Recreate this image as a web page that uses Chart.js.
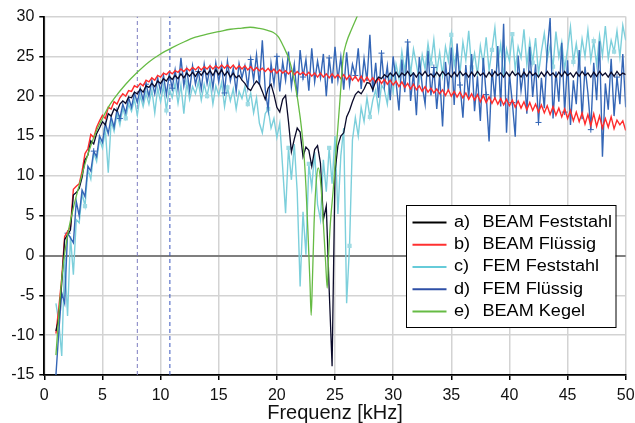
<!DOCTYPE html>
<html>
<head>
<meta charset="utf-8">
<script src="https://cdn.jsdelivr.net/npm/chart.js@4.4.1/dist/chart.umd.min.js"></script>
<style>
  html, body { margin: 0; padding: 0; background: #fff; }
  #wrap { width: 635px; height: 423px; }
</style>
</head>
<body>
<div id="wrap"><canvas id="chart" width="635" height="423"></canvas></div>
<script>
// frequency grid of the computed series (kHz)
const freqStart = 1.0;
const freqStep = 0.25;

// a) BEAM Feststahl
const beamFest = [
  -9.5, -7.8, -3.5, 2.0, 2.6, 3.2, 7.6, 7.9, 8.4, 9.8, 12.0, 12.6, 14.4, 14.0, 15.3, 16.0, 16.8, 16.4, 17.8, 17.5,
  18.4, 18.1, 19.0, 19.4, 19.1, 19.9, 19.8, 20.5, 20.3, 20.9, 20.5, 21.3, 21.1, 21.6, 21.2, 21.9, 21.6, 22.2, 21.9, 22.5,
  22.1, 22.6, 22.2, 22.8, 22.3, 22.9, 22.5, 23.0, 22.5, 23.1, 22.6, 23.2, 22.7, 23.2, 22.6, 23.3, 22.7, 23.3, 22.6, 23.1,
  22.4, 22.9, 22.3, 22.6, 22.0, 21.6, 21.0, 20.7, 21.4, 21.9, 21.5, 20.6, 19.6, 21.0, 21.5, 20.2, 18.6, 18.0, 19.6, 20.1,
  16.8, 13.0, 14.6, 16.0, 15.5, 12.4, 13.6, 13.2, 11.2, 13.3, 13.8, 11.6, 4.5, 6.2, -4.3, -13.9, 10.5, 13.8, 15.0, 15.4,
  17.4, 18.2, 19.3, 20.2, 20.6, 20.3, 20.9, 21.7, 21.6, 20.8, 21.9, 22.4, 22.2, 22.7, 22.4, 22.9, 22.5, 23.0, 22.4, 22.9,
  22.6, 23.1, 22.5, 22.9, 22.4, 23.0, 22.6, 23.1, 22.5, 22.8, 22.4, 23.0, 22.5, 23.1, 22.6, 22.9, 22.4, 23.0, 22.5, 23.1,
  22.6, 22.9, 22.4, 23.0, 22.5, 23.1, 22.6, 22.9, 22.4, 23.0, 22.5, 23.1, 22.6, 22.9, 22.4, 23.0, 22.5, 23.1, 22.6, 22.9,
  22.4, 23.0, 22.5, 23.1, 22.6, 22.9, 22.4, 23.0, 22.5, 23.1, 22.6, 22.9, 22.4, 23.0, 22.5, 23.1, 22.6, 22.9, 22.4, 23.0,
  22.5, 23.1, 22.6, 22.9, 22.4, 23.0, 22.5, 23.1, 22.6, 22.9, 22.4, 23.0, 22.5, 23.1, 22.6, 22.9, 22.7
];

// b) BEAM Flüssig
const beamFluid = [
  -9.8, -6.5, -2.8, 2.4, 3.0, 3.6, 8.3, 8.7, 9.0, 10.6, 12.8, 13.4, 15.2, 14.8, 16.1, 16.9, 17.6, 17.2, 18.6, 18.4,
  19.3, 19.0, 19.8, 20.3, 20.0, 20.7, 20.6, 21.3, 21.1, 21.6, 21.3, 22.0, 21.8, 22.3, 22.0, 22.6, 22.4, 22.9, 22.7, 23.1,
  22.8, 23.2, 23.0, 23.4, 23.1, 23.5, 23.2, 23.6, 23.3, 23.7, 23.3, 23.7, 23.4, 23.8, 23.4, 23.8, 23.5, 23.9, 23.5, 23.9,
  23.5, 23.9, 23.4, 23.8, 23.4, 23.8, 23.3, 23.7, 23.2, 23.6, 23.2, 23.5, 23.1, 23.5, 23.0, 23.4, 22.9, 23.3, 22.9, 23.2,
  22.8, 23.2, 22.7, 23.1, 22.7, 23.0, 22.6, 23.0, 22.5, 22.9, 22.4, 22.9, 22.4, 22.8, 22.3, 22.8, 22.3, 22.7, 22.2, 22.7,
  22.1, 22.6, 22.0, 22.5, 21.9, 22.5, 21.8, 22.4, 21.8, 22.3, 21.7, 22.2, 21.6, 22.1, 21.5, 22.0, 21.4, 21.9, 21.2, 21.8,
  21.1, 21.6, 20.9, 21.5, 20.8, 21.3, 20.6, 21.2, 20.5, 21.0, 20.4, 20.9, 20.3, 20.8, 20.1, 20.8, 20.0, 20.6, 19.9, 20.5,
  19.8, 20.4, 19.6, 20.3, 19.5, 20.2, 19.3, 20.1, 19.2, 19.9, 19.1, 19.8, 19.0, 19.7, 18.9, 19.6, 18.8, 19.5, 18.6, 19.4,
  18.5, 19.3, 18.3, 19.2, 18.2, 19.0, 18.0, 18.9, 17.9, 18.8, 17.7, 18.7, 17.6, 18.5, 17.4, 18.4, 17.2, 18.2, 16.9, 18.0,
  16.8, 17.9, 16.5, 17.7, 16.3, 17.8, 16.2, 17.5, 16.0, 17.2, 16.1, 17.4, 15.9, 17.0, 16.4, 16.9, 15.7
];

// c) FEM Feststahl
const femFest = [
  -6.0, -8.4, -12.6, -0.5, -7.6, 2.4, -2.4, 4.5, 4.1, 7.8, 6.2, 10.8, 9.6, 12.9, 11.8, 14.6, 13.5, 15.8, 10.4, 16.9,
  15.6, 17.8, 16.4, 18.5, 17.2, 19.0, 18.1, 19.6, 17.6, 20.1, 18.7, 20.4, 19.0, 20.8, 17.9, 21.0, 19.3, 21.3, 18.2, 21.0,
  19.8, 21.6, 19.1, 21.4, 17.8, 21.7, 19.6, 21.2, 20.3, 21.8, 19.5, 21.5, 20.0, 21.9, 19.0, 21.3, 20.1, 21.7, 18.7, 21.1,
  19.4, 20.9, 18.4, 20.6, 19.7, 21.2, 19.0, 20.4, 17.9, 19.8, 16.6, 15.4, 17.8, 18.4, 16.0, 17.2, 14.8, 16.6, 11.0, 5.3,
  13.5, 9.5, 14.0, 8.0, -3.9, 5.5, 0.1, 11.5, 8.5, 13.0, 6.4, 4.5, 12.0, 8.0, 13.5, 9.0, 15.0, 5.2, 12.5, 16.0,
  -6.0, 1.2, 14.5, 17.3, 15.0, 18.6, 16.8, 19.8, 17.4, 19.5, 20.8, 18.2, 21.4, 20.8, 19.0, 22.6, 20.5, 24.0, 22.2, 25.6,
  23.1, 26.4, 22.8, 25.9, 24.0, 21.9, 25.2, 23.4, 26.6, 24.1, 27.1, 23.0, 25.5, 22.6, 26.2, 24.4, 27.7, 23.8, 25.9, 22.9,
  26.8, 24.5, 28.2, 23.6, 25.4, 22.7, 26.3, 24.0, 27.4, 23.2, 25.8, 28.6, 24.1, 26.5, 22.5, 25.9, 24.4, 27.8, 23.3, 26.2,
  24.8, 28.4, 23.9, 26.9, 24.2, 27.3, 22.8, 25.6, 27.9, 24.6, 26.4, 23.7, 28.1, 24.9, 26.8, 23.4, 25.9, 28.7, 24.3, 26.6,
  23.8, 27.2, 25.0, 28.3, 24.5, 26.9, 23.9, 27.6, 25.1, 28.8, 24.7, 27.0, 25.6, 28.2, 24.9, 28.9, 27.0
];

// d) FEM Flüssig
const femFluid = [
  -15.0, -9.5, -4.7, -6.0, 2.8, 2.2, 1.6, 6.8, 5.0, 8.2, 7.4, 11.2, 10.6, 13.1, 12.4, 15.0, 14.2, 16.6, 15.3, 17.4,
  16.1, 18.3, 17.2, 19.0, 17.9, 19.8, 18.6, 20.4, 19.2, 21.0, 19.5, 21.5, 20.0, 22.0, 20.3, 22.3, 20.6, 22.6, 20.2, 22.8,
  21.0, 23.3, 20.8, 24.8, 21.3, 23.4, 20.7, 23.8, 21.5, 23.1, 20.9, 24.0, 21.6, 23.6, 21.0, 24.2, 21.8, 23.9, 20.4, 24.4,
  21.9, 23.5, 20.6, 24.1, 22.3, 23.8, 21.1, 24.6, 22.0, 25.2, 21.4, 27.0, 20.8, 18.3, 24.1, 21.5, 25.0, 20.6, 24.3, 22.0,
  25.6, 21.2, 24.0, 19.9, 25.8, 22.4, 24.6, 20.7, 26.0, 21.8, 24.4, 22.3, 25.3, 20.0, 24.8, 21.6, 26.2, 22.0, 24.9, 20.8,
  25.5, 21.4, 24.0, 22.6, 26.0, 20.9, 24.7, 21.9, 27.7, 20.5, 24.2, 19.8, 25.4, 21.2, 23.8, 19.5, 25.0, 21.8, 18.2, 24.6,
  20.5, 26.8, 19.4, 23.0, 17.6, 24.9, 21.3, 19.0, 25.7, 20.1, 23.6, 18.4, 22.7, 16.2, 24.3, 20.6, 26.1, 18.9, 26.6, 21.4,
  17.3, 23.9, 19.8, 25.3, 18.1, 22.5, 16.9, 24.8, 20.2, 14.3, 23.4, 19.6, 26.3, 18.7, 29.1, 15.4, 22.8, 19.2, 14.9, 25.1,
  20.7, 23.5, 17.8, 26.2, 19.9, 24.0, 16.7, 22.3, 18.5, 25.6, 29.8, 17.2, 23.1, 19.3, 26.7, 18.0, 24.5, 16.4, 22.0, 19.0,
  25.8, 17.1, 23.7, 20.4, 15.8, 24.2, 19.5, 26.9, 12.4, 21.6, 18.3, 24.7, 17.5, 22.4, 19.0, 25.3, 18.6
];

// e) BEAM Kegel (smooth curve, own frequency points)
const kegelFreq = [
  1.0, 1.3, 1.6, 2.0, 2.5, 3.0, 3.5, 4.0, 4.5, 5.0, 5.5, 6.0, 7.0, 8.0, 9.0, 10.0, 11.0, 12.0, 13.0, 14.0,
  15.0, 16.0, 17.0, 17.7, 18.5, 19.2, 19.7, 20.1, 20.55, 21.1, 21.55, 22.0, 22.3, 22.5, 22.7, 22.85, 22.95, 23.05, 23.2, 23.4,
  23.56, 23.75, 24.0, 24.2, 24.33, 24.45, 24.6, 24.85, 25.1, 25.4, 25.7, 26.0, 26.4, 26.9, 27.3
];
const kegelLevel = [
  -12.5, -6.5, -1.5, 2.5, 6.0, 8.8, 11.5, 13.8, 15.7, 17.2, 18.6, 19.7, 21.5, 23.0, 24.3, 25.3, 26.1, 26.8, 27.4, 27.8,
  28.1, 28.4, 28.55, 28.65, 28.5, 28.25, 28.0, 27.5, 26.3, 24.4, 21.6, 17.4, 13.3, 8.7, 2.0, -3.5, -7.5, -3.5, 4.0, 9.5,
  11.0, 9.5, 4.0, -1.0, -4.1, 0.0, 4.0, 8.3, 13.3, 19.0, 24.8, 26.8, 28.3, 30.0, 31.5
];

// dashed reference frequencies (kHz)
const markFreq = [8.0, 10.8];

const seriesTags = ['a)', 'b)', 'c)', 'd)', 'e)'];
const seriesNames = ['BEAM Feststahl', 'BEAM Flüssig', 'FEM Feststahl', 'FEM Flüssig', 'BEAM Kegel'];
const seriesColors = ['#0a0a2a', '#ff2b2b', '#7ccfdb', '#3466b6', '#66bb44'];
const legendColors = ['#000000', '#ff3030', '#66cbd9', '#2e4fa6', '#66bb44'];

const xMin = 0, xMax = 50, yMin = -15, yMax = 30;

const toPoints = (arr) => arr.map((y, i) => ({ x: freqStart + i * freqStep, y: y }));
const kegelPoints = kegelFreq.map((f, i) => ({ x: f, y: kegelLevel[i] }));

const legendBox = {
  id: 'legendBox',
  afterDatasetsDraw(chart) {
    const { ctx, chartArea } = chart;
    const w = 209.5, h = 122;
    const x0 = Math.round(chartArea.right - 10 - w);
    const y0 = Math.round(chartArea.bottom - 48 - h);
    ctx.save();
    ctx.fillStyle = '#ffffff';
    ctx.fillRect(x0, y0, w, h);
    ctx.strokeStyle = '#000';
    ctx.lineWidth = 1;
    ctx.strokeRect(x0 + 0.5, y0 + 0.5, w, h);
    ctx.textBaseline = 'middle';
    seriesNames.forEach((name, i) => {
      const y = y0 + 17.5 + i * 22.25;
      ctx.strokeStyle = legendColors[i];
      ctx.lineWidth = 2;
      ctx.beginPath();
      ctx.moveTo(x0 + 6.5, y);
      ctx.lineTo(x0 + 40.5, y);
      ctx.stroke();
      // the reference text is slightly wide, stretch it a little
      ctx.save();
      ctx.translate(x0 + 48, y);
      ctx.scale(1.13, 1);
      ctx.font = '16px "Liberation Sans", Arial, sans-serif';
      ctx.fillStyle = '#000';
      ctx.fillText(seriesTags[i], 0, 0);
      ctx.fillText(name, 28.5 / 1.13, 0);
      ctx.restore();
    });
    ctx.restore();
  }
};

const gridColor = (c) => (c.tick && c.tick.value === 0 ? '#7f7f7f' : '#d3d3d3');
const gridWidth = (c) => (c.tick && c.tick.value === 0 ? 2 : 1.5);

new Chart(document.getElementById('chart'), {
  type: 'line',
  data: {
    datasets: [
      {
        data: kegelPoints, borderColor: seriesColors[4], borderWidth: 1.3,
        cubicInterpolationMode: 'monotone', order: 0
      },
      { data: toPoints(beamFest), borderColor: seriesColors[0], borderWidth: 1.3, order: 1 },
      { data: toPoints(beamFluid), borderColor: seriesColors[1], borderWidth: 1.4, order: 2 },
      {
        data: toPoints(femFluid), borderColor: seriesColors[3], borderWidth: 1.4, order: 3,
        pointStyle: 'cross', pointBorderColor: seriesColors[3], pointBorderWidth: 1,
        pointRadius: (c) => (c.dataIndex % 9 === 4 ? 3 : 0)
      },
      {
        data: toPoints(femFest), borderColor: seriesColors[2], borderWidth: 1.4, order: 4,
        pointStyle: 'rect', pointBackgroundColor: '#9fdbe4', pointBorderColor: '#9fdbe4',
        pointRadius: (c) => (c.dataIndex % 7 === 3 ? 2 : 0)
      },
      {
        data: [{ x: markFreq[0], y: yMin }, { x: markFreq[0], y: yMax }],
        borderColor: '#7c7cc0', borderWidth: 1, borderDash: [4, 3], order: 5
      },
      {
        data: [{ x: markFreq[1], y: yMin }, { x: markFreq[1], y: yMax }],
        borderColor: '#3a55bd', borderWidth: 1, borderDash: [4, 3], order: 5
      }
    ]
  },
  options: {
    responsive: false,
    animation: false,
    layout: { padding: { top: 16.5, right: 9.3, bottom: 0, left: 0 } },
    elements: { point: { radius: 0 }, line: { tension: 0 } },
    plugins: { legend: { display: false }, tooltip: { enabled: false } },
    scales: {
      x: {
        type: 'linear', min: xMin, max: xMax,
        afterFit: (s) => { s.height = 48; s.paddingLeft = 0; s.paddingRight = 0; },
        ticks: {
          stepSize: 5, padding: 6, color: '#111',
          font: { family: '"Liberation Sans", Arial, sans-serif', size: 16 }
        },
        grid: { color: '#d3d3d3', lineWidth: 1.5, tickLength: 5, tickColor: '#000' },
        border: { color: '#000', width: 1.8 },
        title: {
          display: true, text: 'Frequenz [kHz]', color: '#111',
          font: { family: '"Liberation Sans", Arial, sans-serif', size: 20, lineHeight: 1.0 },
          padding: { top: 0, bottom: 0 }
        }
      },
      y: {
        type: 'linear', min: yMin, max: yMax,
        afterFit: (s) => { s.width = 44.3; s.paddingTop = 0; s.paddingBottom = 0; },
        ticks: {
          stepSize: 5, padding: 5, color: '#111',
          font: { family: '"Liberation Sans", Arial, sans-serif', size: 16 }
        },
        grid: {
          color: gridColor, lineWidth: gridWidth, tickLength: 5,
          tickColor: (c) => (c.tick && c.tick.value === 0 ? '#7f7f7f' : '#000')
        },
        border: { color: '#000', width: 1.8 }
      }
    }
  },
  plugins: [legendBox]
});
</script>
</body>
</html>
